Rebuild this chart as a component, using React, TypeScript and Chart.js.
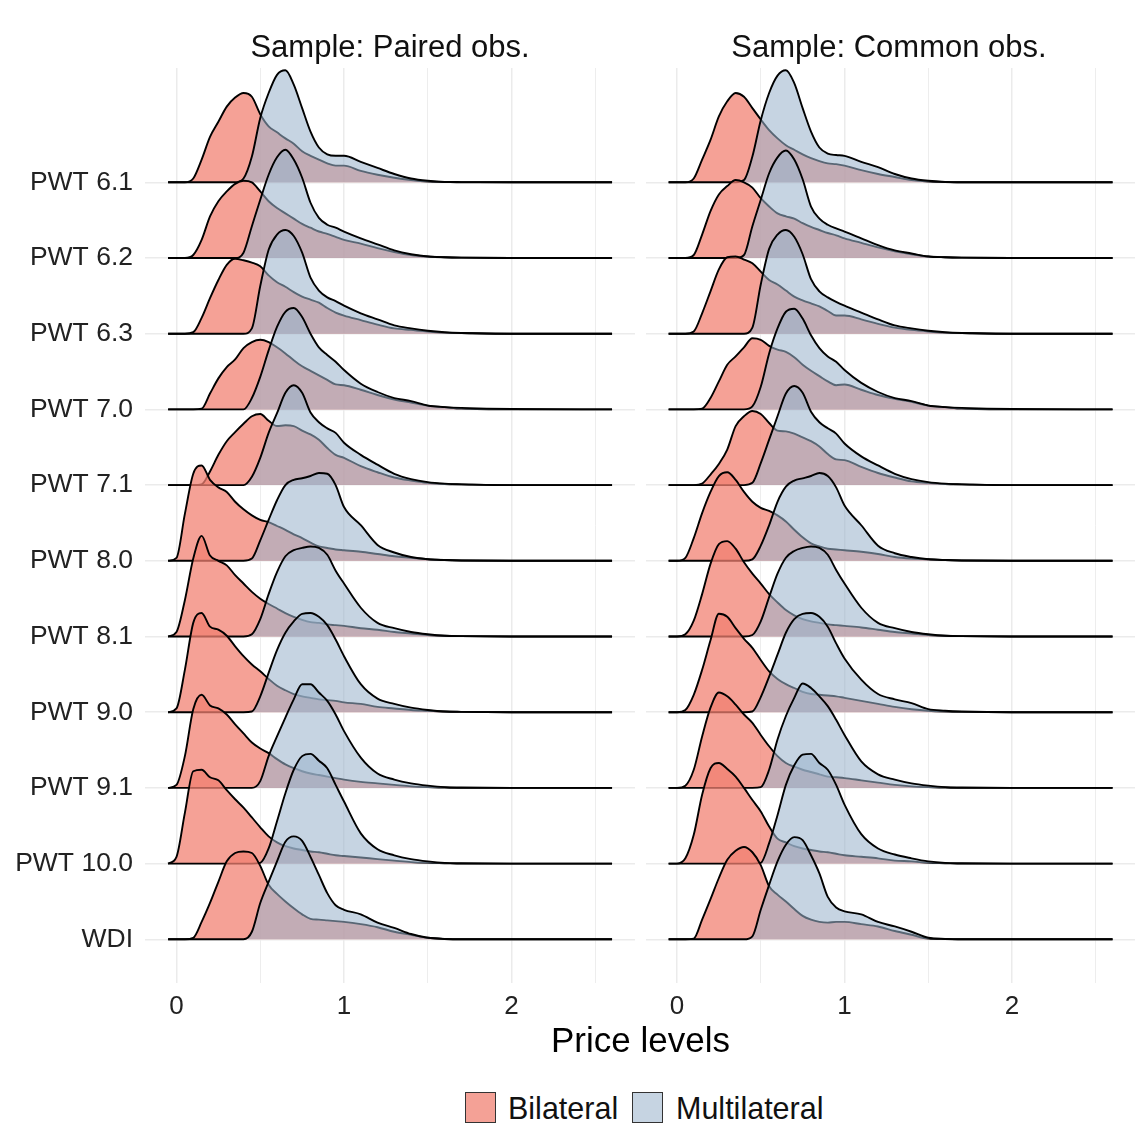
import React, { useEffect, useRef } from "react";
import { Chart, registerables } from "chart.js";

Chart.register(...registerables);

// ---------- DATA ----------
const ROW_LABELS = [
  "PWT 6.1", "PWT 6.2", "PWT 6.3", "PWT 7.0", "PWT 7.1", "PWT 8.0",
  "PWT 8.1", "PWT 9.0", "PWT 9.1", "PWT 10.0", "WDI",
];
const SERIES_NAMES = ["Bilateral", "Multilateral"];
const PANEL_TITLES = ["Sample: Paired obs.", "Sample: Common obs."];
const AXIS_TITLE = "Price levels";
const X_TICKS = [0, 0.5, 1, 1.5, 2, 2.5];

// price-level grid at which the density heights were read
const X_GRID = [
  -0.05, 0, 0.05, 0.1, 0.15, 0.2, 0.25, 0.3, 0.35, 0.4, 0.45, 0.5, 0.55, 0.6,
  0.65, 0.7, 0.75, 0.8, 0.85, 0.9, 0.95, 1.0, 1.1, 1.2, 1.3, 1.4, 1.5, 1.6,
  1.7, 2.0, 2.6,
];

// density heights (row-spacing units), one row per source
const PAIRED_BILATERAL = [
  [0,0,0,0.05,0.30,0.60,0.80,1.00,1.12,1.18,1.13,0.90,0.74,0.66,0.58,0.51,0.41,0.35,0.30,0.25,0.22,0.22,0.15,0.10,0.06,0.03,0.01,0.005,0,0,0],
  [0,0,0,0.04,0.24,0.55,0.75,0.88,0.98,1.02,1.00,0.88,0.75,0.66,0.59,0.52,0.45,0.40,0.35,0.32,0.28,0.24,0.19,0.13,0.08,0.04,0.02,0.01,0.005,0,0],
  [0,0,0,0.02,0.21,0.47,0.71,0.91,0.99,0.97,0.94,0.89,0.77,0.68,0.62,0.55,0.49,0.45,0.41,0.34,0.28,0.24,0.18,0.12,0.07,0.05,0.03,0.015,0.01,0,0],
  [0,0,0,0,0.01,0.21,0.41,0.56,0.66,0.81,0.89,0.92,0.89,0.82,0.74,0.65,0.57,0.51,0.45,0.39,0.33,0.32,0.26,0.19,0.13,0.09,0.05,0.03,0.01,0,0],
  [0,0,0,0,0.01,0.18,0.40,0.58,0.70,0.81,0.91,0.94,0.85,0.78,0.79,0.78,0.72,0.67,0.60,0.49,0.40,0.36,0.25,0.17,0.10,0.06,0.03,0.015,0.01,0,0],
  [0,0.04,0.62,1.15,1.26,1.07,0.97,0.91,0.78,0.68,0.60,0.54,0.51,0.46,0.41,0.35,0.30,0.24,0.19,0.17,0.15,0.14,0.12,0.09,0.06,0.04,0.02,0.01,0.005,0,0],
  [0,0.06,0.48,1.03,1.33,1.07,1.00,0.94,0.81,0.70,0.59,0.50,0.43,0.37,0.31,0.26,0.22,0.19,0.18,0.16,0.15,0.14,0.11,0.09,0.06,0.04,0.02,0.01,0.005,0,0],
  [0,0.05,0.56,1.18,1.31,1.13,1.09,1.01,0.87,0.74,0.63,0.54,0.44,0.35,0.29,0.24,0.21,0.19,0.17,0.16,0.15,0.13,0.11,0.07,0.05,0.03,0.02,0.01,0.005,0,0],
  [0,0.04,0.42,1.04,1.23,1.09,1.05,0.97,0.84,0.72,0.60,0.52,0.46,0.38,0.31,0.26,0.22,0.19,0.17,0.15,0.13,0.11,0.08,0.06,0.04,0.02,0.01,0.005,0,0,0],
  [0,0.09,0.67,1.22,1.24,1.14,1.10,0.97,0.85,0.74,0.61,0.48,0.36,0.28,0.23,0.20,0.18,0.16,0.15,0.13,0.11,0.10,0.08,0.06,0.04,0.02,0.01,0.005,0,0,0],
  [0,0,0,0.02,0.23,0.48,0.76,1.03,1.14,1.16,1.14,0.97,0.72,0.60,0.50,0.41,0.33,0.27,0.26,0.25,0.24,0.23,0.20,0.16,0.10,0.06,0.02,0.005,0,0,0],
];
const PAIRED_MULTILATERAL = [
  [0,0,0,0,0,0,0,0,0,0.05,0.34,0.85,1.18,1.42,1.48,1.29,0.98,0.67,0.46,0.37,0.35,0.35,0.27,0.19,0.11,0.05,0.02,0.005,0.003,0,0],
  [0,0,0,0,0,0,0,0,0,0.07,0.42,0.77,1.10,1.33,1.43,1.30,1.06,0.73,0.53,0.44,0.40,0.35,0.26,0.18,0.10,0.05,0.02,0.01,0.005,0,0],
  [0,0,0,0,0,0,0,0,0,0,0.07,0.63,1.11,1.31,1.37,1.29,1.07,0.74,0.57,0.48,0.43,0.37,0.27,0.19,0.11,0.07,0.04,0.02,0.01,0,0],
  [0,0,0,0,0,0,0,0,0,0,0.15,0.43,0.78,1.09,1.29,1.34,1.22,1.00,0.82,0.72,0.63,0.52,0.34,0.23,0.15,0.11,0.05,0.03,0.02,0.005,0],
  [0,0,0,0,0,0,0,0,0,0,0.11,0.36,0.69,0.95,1.22,1.32,1.22,0.96,0.83,0.75,0.69,0.56,0.40,0.27,0.15,0.08,0.04,0.02,0.01,0,0],
  [0,0,0,0,0,0,0,0,0,0,0.03,0.27,0.54,0.80,1.00,1.07,1.09,1.12,1.16,1.15,1.00,0.71,0.47,0.21,0.11,0.05,0.02,0.01,0.005,0,0],
  [0,0,0,0,0,0,0,0,0,0,0.03,0.23,0.56,0.85,1.06,1.14,1.17,1.19,1.17,1.08,0.87,0.70,0.38,0.18,0.11,0.06,0.03,0.01,0.005,0,0],
  [0,0,0,0,0,0,0,0,0,0,0.01,0.21,0.52,0.82,1.05,1.20,1.30,1.31,1.26,1.15,0.96,0.74,0.37,0.18,0.11,0.06,0.03,0.01,0.005,0,0],
  [0,0,0,0,0,0,0,0,0,0,0,0.09,0.42,0.68,0.93,1.17,1.37,1.37,1.26,1.15,0.97,0.75,0.40,0.19,0.11,0.06,0.03,0.01,0.005,0,0],
  [0,0,0,0,0,0,0,0,0,0,0,0.01,0.20,0.56,0.93,1.24,1.42,1.45,1.36,1.26,1.04,0.82,0.40,0.19,0.11,0.06,0.03,0.01,0.005,0,0],
  [0,0,0,0,0,0,0,0,0,0,0.10,0.48,0.76,1.03,1.29,1.36,1.30,1.09,0.85,0.61,0.45,0.39,0.33,0.22,0.15,0.07,0.02,0.005,0,0,0],
];
const COMMON_BILATERAL = [
  [0,0,0,0.05,0.30,0.56,0.87,1.07,1.18,1.13,0.98,0.83,0.69,0.58,0.49,0.43,0.37,0.32,0.28,0.25,0.24,0.22,0.16,0.11,0.07,0.03,0.01,0.005,0,0,0],
  [0,0,0,0.04,0.31,0.62,0.84,0.95,1.03,1.00,0.93,0.79,0.68,0.59,0.55,0.52,0.46,0.41,0.37,0.33,0.30,0.26,0.20,0.14,0.09,0.05,0.02,0.01,0.005,0,0],
  [0,0,0,0.03,0.27,0.56,0.85,1.01,1.02,0.98,0.93,0.82,0.71,0.65,0.57,0.49,0.44,0.40,0.36,0.30,0.24,0.24,0.19,0.13,0.08,0.05,0.03,0.015,0.01,0,0],
  [0,0,0,0,0.01,0.15,0.37,0.59,0.70,0.82,0.94,0.92,0.84,0.79,0.76,0.69,0.59,0.51,0.44,0.37,0.32,0.33,0.26,0.19,0.14,0.10,0.05,0.03,0.01,0,0],
  [0,0,0,0,0.02,0.14,0.28,0.47,0.78,0.91,0.98,0.94,0.82,0.72,0.71,0.68,0.63,0.58,0.51,0.41,0.34,0.33,0.24,0.16,0.10,0.05,0.03,0.015,0.01,0,0],
  [0,0,0.04,0.30,0.63,0.91,1.12,1.17,1.07,0.91,0.78,0.70,0.66,0.60,0.52,0.41,0.31,0.23,0.19,0.16,0.15,0.14,0.12,0.09,0.05,0.03,0.02,0.01,0.005,0,0],
  [0,0,0.03,0.21,0.56,0.96,1.22,1.26,1.16,0.98,0.83,0.70,0.56,0.45,0.35,0.28,0.23,0.20,0.18,0.16,0.15,0.14,0.12,0.09,0.06,0.04,0.02,0.01,0.005,0,0],
  [0,0,0.03,0.23,0.56,0.95,1.30,1.26,1.11,0.97,0.85,0.69,0.54,0.44,0.37,0.32,0.27,0.24,0.23,0.22,0.21,0.19,0.15,0.11,0.07,0.04,0.02,0.01,0.005,0,0],
  [0,0,0.03,0.24,0.68,1.06,1.26,1.21,1.10,0.97,0.86,0.70,0.55,0.42,0.33,0.28,0.24,0.21,0.18,0.15,0.14,0.13,0.10,0.07,0.04,0.02,0.01,0.005,0,0,0],
  [0,0,0.07,0.38,0.91,1.26,1.33,1.25,1.15,1.00,0.84,0.69,0.49,0.33,0.28,0.23,0.20,0.18,0.16,0.15,0.13,0.11,0.09,0.07,0.04,0.03,0.01,0.005,0,0,0],
  [0,0,0,0.01,0.26,0.53,0.81,1.05,1.17,1.22,1.15,0.98,0.70,0.59,0.50,0.40,0.31,0.26,0.23,0.22,0.23,0.23,0.20,0.17,0.11,0.06,0.01,0.005,0,0,0],
];
const COMMON_MULTILATERAL = [
  [0,0,0,0,0,0,0,0,0,0.03,0.34,0.82,1.18,1.41,1.48,1.31,0.98,0.67,0.46,0.38,0.36,0.35,0.27,0.20,0.11,0.05,0.02,0.005,0,0,0],
  [0,0,0,0,0,0,0,0,0,0.04,0.42,0.77,1.12,1.33,1.42,1.30,1.04,0.68,0.52,0.44,0.39,0.35,0.26,0.17,0.10,0.06,0.02,0.01,0.005,0,0],
  [0,0,0,0,0,0,0,0,0,0,0.08,0.65,1.12,1.31,1.37,1.28,1.05,0.72,0.56,0.48,0.42,0.37,0.28,0.19,0.11,0.07,0.04,0.02,0.01,0,0],
  [0,0,0,0,0,0,0,0,0,0,0.04,0.30,0.74,1.07,1.29,1.33,1.20,0.98,0.81,0.70,0.63,0.52,0.35,0.23,0.15,0.11,0.05,0.03,0.02,0.005,0],
  [0,0,0,0,0,0,0,0,0,0,0.03,0.29,0.60,0.91,1.21,1.31,1.22,0.97,0.83,0.75,0.68,0.55,0.38,0.26,0.15,0.08,0.04,0.02,0.01,0,0],
  [0,0,0,0,0,0,0,0,0,0,0.02,0.20,0.47,0.78,0.98,1.06,1.09,1.12,1.16,1.12,0.97,0.73,0.47,0.20,0.10,0.05,0.02,0.01,0.005,0,0],
  [0,0,0,0,0,0,0,0,0,0,0.02,0.20,0.52,0.83,1.04,1.13,1.17,1.19,1.17,1.08,0.88,0.70,0.38,0.18,0.11,0.06,0.03,0.01,0.005,0,0],
  [0,0,0,0,0,0,0,0,0,0,0.01,0.20,0.47,0.76,1.05,1.23,1.30,1.31,1.26,1.13,0.91,0.71,0.43,0.24,0.17,0.12,0.04,0.02,0.01,0,0],
  [0,0,0,0,0,0,0,0,0,0,0,0.01,0.24,0.64,0.95,1.19,1.38,1.32,1.21,1.08,0.90,0.70,0.35,0.18,0.11,0.06,0.03,0.01,0.005,0,0],
  [0,0,0,0,0,0,0,0,0,0,0,0.01,0.27,0.64,1.04,1.30,1.44,1.45,1.33,1.24,1.04,0.78,0.39,0.20,0.12,0.07,0.03,0.01,0.005,0,0],
  [0,0,0,0,0,0,0,0,0,0,0.04,0.39,0.72,1.03,1.25,1.35,1.31,1.11,0.87,0.56,0.42,0.37,0.33,0.23,0.17,0.10,0.02,0.005,0,0,0],
];

// ---------- STYLE ----------
const FONT = '"Liberation Sans", Arial, Helvetica, sans-serif';
const BIL_FILL = "rgba(241,128,114,0.74)";
const MUL_FILL = "rgba(155,180,204,0.57)";
const BIL_KEY = "#F4A196";
const MUL_KEY = "#C6D4E2";
const GRID = "#EBEBEB";
const CANVAS_H = 1030;

function buildDatasets(bil: number[][], mul: number[][]) {
  const n = ROW_LABELS.length;
  const total = n * 2;
  const ds: any[] = [];
  ROW_LABELS.forEach((name, r) => {
    const base = n - 1 - r;
    [bil[r], mul[r]].forEach((vals, s) => {
      const drawIndex = r * 2 + s;
      ds.push({
        label: `${SERIES_NAMES[s]} ${name}`,
        data: X_GRID.map((x, i) => ({ x, y: base + vals[i] })),
        fill: { value: base },
        backgroundColor: s === 0 ? BIL_FILL : MUL_FILL,
        borderColor: "#000",
        borderWidth: 1.9,
        pointRadius: 0,
        pointHoverRadius: 0,
        cubicInterpolationMode: "monotone",
        order: total - drawIndex,
      });
    });
  });
  return ds;
}

type PanelProps = {
  bil: number[][];
  mul: number[][];
  xMin: number;
  xMax: number;
  showY: boolean;
  yWidth: number;
  padRight: number;
  left: number;
  width: number;
};

function Panel(p: PanelProps) {
  const ref = useRef<HTMLCanvasElement | null>(null);
  useEffect(() => {
    const n = ROW_LABELS.length;
    const chart = new Chart(ref.current as HTMLCanvasElement, {
      type: "line",
      data: { datasets: buildDatasets(p.bil, p.mul) },
      options: {
        responsive: false,
        animation: false,
        events: [],
        layout: { padding: { top: 68, right: p.padRight, left: 0, bottom: 0 } },
        plugins: {
          legend: { display: false },
          tooltip: { enabled: false },
          title: { display: false },
        },
        scales: {
          x: {
            type: "linear",
            min: p.xMin,
            max: p.xMax,
            afterBuildTicks: (s: any) => {
              s.ticks = X_TICKS.map((v) => ({ value: v }));
            },
            afterFit: (s: any) => {
              s.height = CANVAS_H - 983;
            },
            ticks: {
              autoSkip: false,
              maxRotation: 0,
              padding: 8,
              color: "#222",
              font: { family: FONT, size: 26 },
              callback: (v: any) => (Number.isInteger(Number(v)) ? String(v) : ""),
            },
            grid: {
              color: GRID,
              drawTicks: false,
              lineWidth: (ctx: any) =>
                ctx.tick && Number.isInteger(ctx.tick.value) ? 1.5 : 0.9,
            },
            border: { display: false },
          },
          y: {
            type: "linear",
            min: -0.577,
            max: 11.51,
            afterBuildTicks: (s: any) => {
              s.ticks = ROW_LABELS.map((_, i) => ({ value: i }));
            },
            afterFit: (s: any) => {
              s.width = p.yWidth;
            },
            ticks: {
              display: p.showY,
              autoSkip: false,
              padding: 12,
              color: "#222",
              font: { family: FONT, size: 26.5 },
              callback: (v: any) => ROW_LABELS[n - 1 - Number(v)],
            },
            grid: { color: GRID, lineWidth: 1.5, drawTicks: false },
            border: { display: false },
          },
        },
      } as any,
    });
    return () => chart.destroy();
  }, []);
  return (
    <canvas
      ref={ref}
      width={p.width}
      height={CANVAS_H}
      style={{ position: "absolute", left: p.left, top: 0, width: p.width, height: CANVAS_H }}
    />
  );
}

const textStyle = (extra: any) => ({
  position: "absolute" as const,
  fontFamily: FONT,
  color: "#111",
  whiteSpace: "nowrap" as const,
  ...extra,
});

export default function App() {
  return (
    <div
      style={{
        position: "absolute",
        left: 0,
        top: 0,
        width: 1135,
        height: 1142,
        overflow: "hidden",
        background: "#fff",
      }}
    >
      <Panel bil={PAIRED_BILATERAL} mul={PAIRED_MULTILATERAL} xMin={-0.188} xMax={2.737}
        showY={true} yWidth={145} padRight={5} left={0} width={640} />
      <Panel bil={COMMON_BILATERAL} mul={COMMON_MULTILATERAL} xMin={-0.185} xMax={2.734}
        showY={false} yWidth={6} padRight={0} left={640} width={495} />

      <div style={textStyle({ left: 145, top: 29, width: 490, height: 36, lineHeight: "36px", fontSize: 31, textAlign: "center" })}>
        {PANEL_TITLES[0]}
      </div>
      <div style={textStyle({ left: 644, top: 29, width: 490, height: 36, lineHeight: "36px", fontSize: 31, textAlign: "center" })}>
        {PANEL_TITLES[1]}
      </div>
      <div style={textStyle({ left: 145, top: 1020, width: 991, height: 40, lineHeight: "40px", fontSize: 35, textAlign: "center", color: "#000" })}>
        {AXIS_TITLE}
      </div>

      <div style={{ position: "absolute", left: 465, top: 1092, width: 31, height: 31, boxSizing: "border-box", border: "1.6px solid #333", background: BIL_KEY }} />
      <div style={textStyle({ left: 508, top: 1090, height: 36, lineHeight: "36px", fontSize: 30.5 })}>
        {SERIES_NAMES[0]}
      </div>
      <div style={{ position: "absolute", left: 632, top: 1092, width: 31, height: 31, boxSizing: "border-box", border: "1.6px solid #333", background: MUL_KEY }} />
      <div style={textStyle({ left: 676, top: 1090, height: 36, lineHeight: "36px", fontSize: 30.5 })}>
        {SERIES_NAMES[1]}
      </div>
    </div>
  );
}
